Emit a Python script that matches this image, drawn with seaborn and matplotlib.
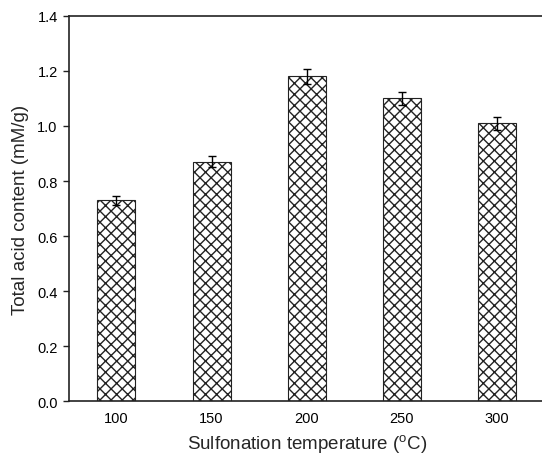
import numpy as np
import pandas as pd
import matplotlib
matplotlib.use("Agg")
import matplotlib.pyplot as plt
import seaborn as sns

# values
temperatures = ["100", "150", "200", "250", "300"]
acid_content = [0.73, 0.87, 1.18, 1.10, 1.01]
acid_error = [0.016, 0.020, 0.028, 0.024, 0.023]

sns.set_style("ticks")
plt.rcParams['font.family'] = ['Liberation Sans', 'DejaVu Sans']
plt.rcParams['mathtext.fontset'] = 'custom'
plt.rcParams['mathtext.rm'] = 'Liberation Sans'
plt.rcParams['hatch.linewidth'] = 1.0

df = pd.DataFrame({"temp": temperatures, "acid": acid_content, "err": acid_error})

fig = plt.figure(figsize=(5.42, 4.56), dpi=100)
ax = fig.add_axes([0.127, 0.118, 0.878, 0.845])

sns.barplot(data=df, x="temp", y="acid", order=temperatures, width=0.4,
            color="white", edgecolor="#222222", linewidth=0.8, hatch="xxx",
            errorbar=None, ax=ax)
ax.errorbar(np.arange(len(temperatures)), df["acid"], yerr=df["err"],
            fmt="none", ecolor="black", elinewidth=1.0, capsize=3, capthick=1.0)

ax.set_xlim(-0.5, 4.5)
ax.set_ylim(0, 1.4)
ax.set_yticks(np.arange(0, 1.41, 0.2))
ax.set_yticklabels([f"{v:.1f}" for v in np.arange(0, 1.41, 0.2)])

ax.set_xlabel(r"Sulfonation temperature ($^{\mathrm{o}}$C)", fontsize=13.5, labelpad=5)
ax.set_ylabel("Total acid content (mM/g)", fontsize=13.5, labelpad=6)

for side in ["left", "top", "bottom"]:
    ax.spines[side].set_visible(True)
    ax.spines[side].set_color("#222222")
    ax.spines[side].set_linewidth(1.2)
ax.spines["right"].set_visible(False)

ax.tick_params(axis="y", direction="out", length=4, width=1, pad=4, labelsize=10.5, colors="#222222")
ax.tick_params(axis="x", length=0, labelsize=10.5, pad=7, colors="#222222")
for lbl in ax.get_xticklabels() + ax.get_yticklabels():
    lbl.set_color("black")

plt.savefig("out.png", dpi=100)
plt.close()
